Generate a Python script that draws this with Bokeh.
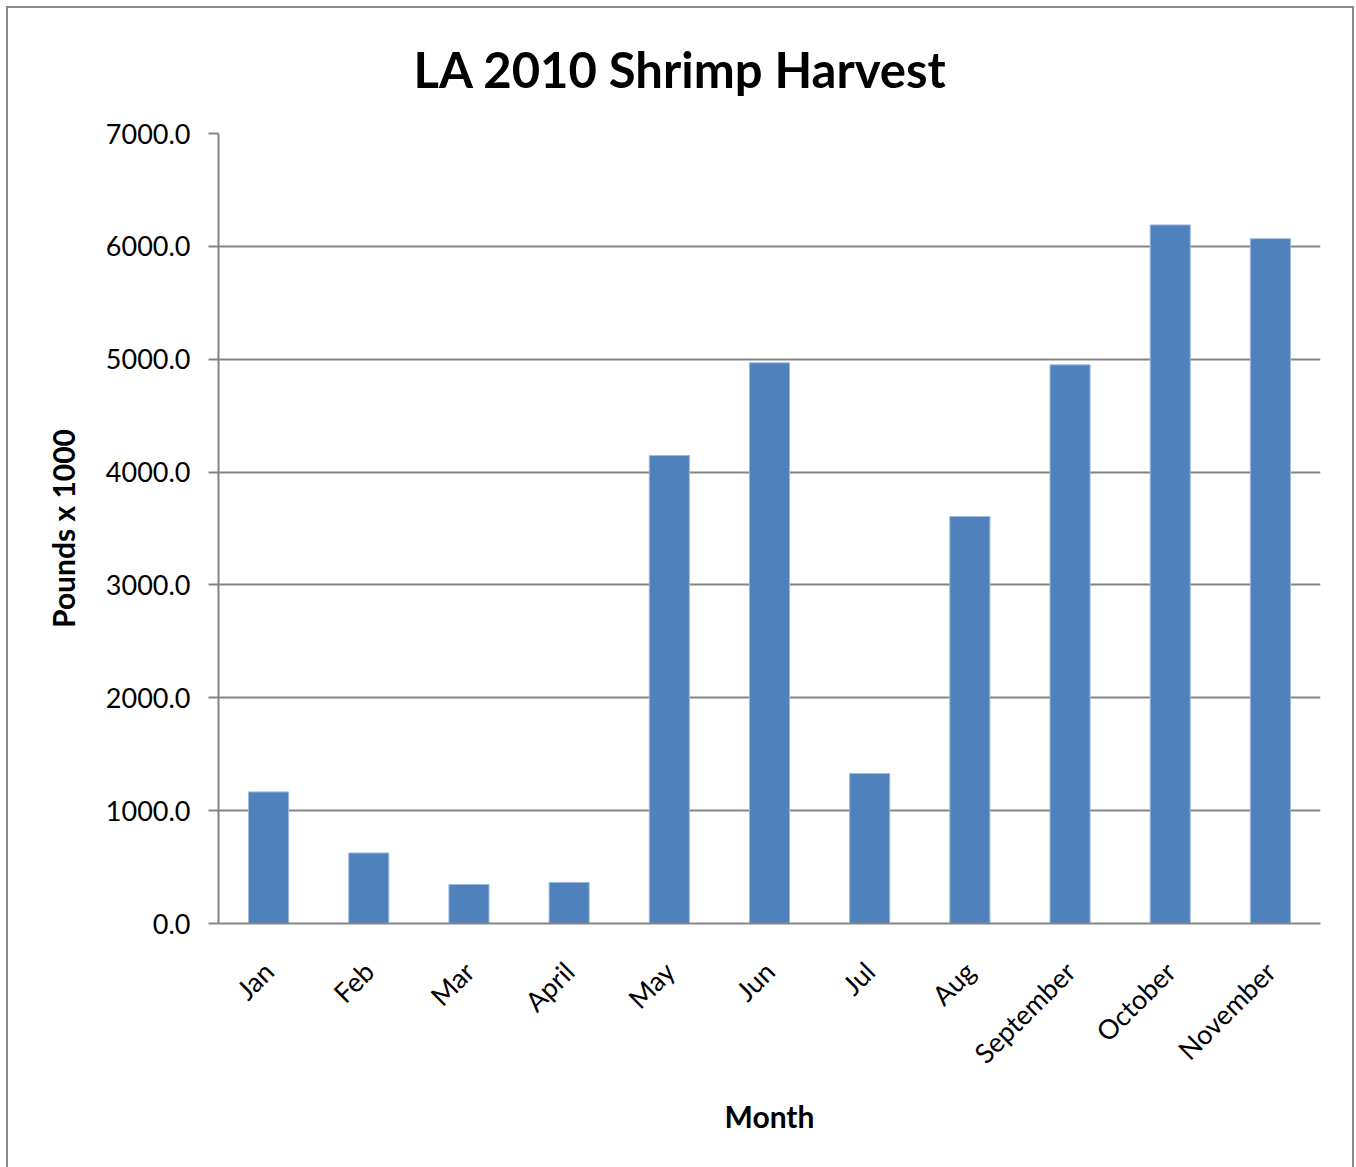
from bokeh.plotting import figure
from bokeh.models import Range1d, NumeralTickFormatter, FixedTicker
from bokeh.embed import file_html
from bokeh.resources import INLINE

# Monthly Louisiana shrimp landings, 2010 (pounds x 1000)
months = ["Jan", "Feb", "Mar", "April", "May", "Jun", "Jul", "Aug",
          "September", "October", "November"]
pounds = [1166, 625, 346, 364, 4147, 4968, 1329, 3606, 4950, 6190, 6068]
y_ticks = [0, 1000, 2000, 3000, 4000, 5000, 6000, 7000]

GRAY = "#858585"
BAR = "#4F81BD"
EDGE = "#8a8a8a"

p = figure(
    width=1356, height=1167,
    x_range=months, y_range=Range1d(0, 7000),
    output_backend="svg", toolbar_location=None,
    min_border_left=218, min_border_right=36,
    min_border_top=133, min_border_bottom=244,
)
p.x_range.range_padding = 0
p.outline_line_color = None
p.background_fill_color = "white"
p.border_fill_color = None

# chart-area frame (left, top and right edges) painted behind the canvas
line = f"linear-gradient({EDGE}, {EDGE})"
p.styles = {
    "background-color": "white",
    "background-image": ", ".join([line, line, line]),
    "background-size": "2px 1161px, 1348px 2px, 2px 1161px",
    "background-position": "6px 6px, 6px 6px, 1352px 6px",
    "background-repeat": "no-repeat",
}

p.vbar(x=months, top=pounds, width=0.4, fill_color=BAR,
       line_color="#9DB9DD", line_width=1)

# title
p.title.text = "LA 2010 Shrimp Harvest"
p.title.text_font = "Lato"
p.title.text_font_style = "bold"
p.title.text_font_size = "49px"
p.title.text_color = "black"
p.title.align = "left"
p.title.offset = 195
p.title.standoff = 72

# y axis
p.yaxis.ticker = FixedTicker(ticks=y_ticks)
p.yaxis.formatter = NumeralTickFormatter(format="0.0")
p.yaxis.axis_label = "Pounds x 1000"
p.yaxis.axis_label_text_font = "Lato"
p.yaxis.axis_label_text_font_style = "bold"
p.yaxis.axis_label_text_font_size = "30px"
p.yaxis.axis_label_text_color = "black"
p.yaxis.axis_label_standoff = 22
p.yaxis.major_label_text_font = "Lato"
p.yaxis.major_label_text_font_size = "27px"
p.yaxis.major_label_text_color = "black"
p.yaxis.major_label_standoff = 18
p.yaxis.axis_line_color = GRAY
p.yaxis.axis_line_width = 2
p.yaxis.major_tick_line_color = GRAY
p.yaxis.major_tick_line_width = 2
p.yaxis.major_tick_out = 10
p.yaxis.major_tick_in = 0
p.yaxis.minor_tick_line_color = None

# x axis
p.xaxis.axis_label = "Month"
p.xaxis.axis_label_text_font = "Lato"
p.xaxis.axis_label_text_font_style = "bold"
p.xaxis.axis_label_text_font_size = "30px"
p.xaxis.axis_label_text_color = "black"
p.xaxis.axis_label_standoff = 14
p.xaxis.major_label_orientation = 0.785398
p.xaxis.major_label_text_font = "Lato"
p.xaxis.major_label_text_font_size = "27px"
p.xaxis.major_label_text_color = "black"
p.xaxis.major_label_standoff = 37
p.xaxis.axis_line_color = GRAY
p.xaxis.axis_line_width = 2
p.xaxis.major_tick_line_color = None
p.xaxis.minor_tick_line_color = None

# grid
p.xgrid.grid_line_color = None
p.ygrid.grid_line_color = GRAY
p.ygrid.grid_line_width = 2

open("out.html", "w").write(file_html(p, INLINE))
